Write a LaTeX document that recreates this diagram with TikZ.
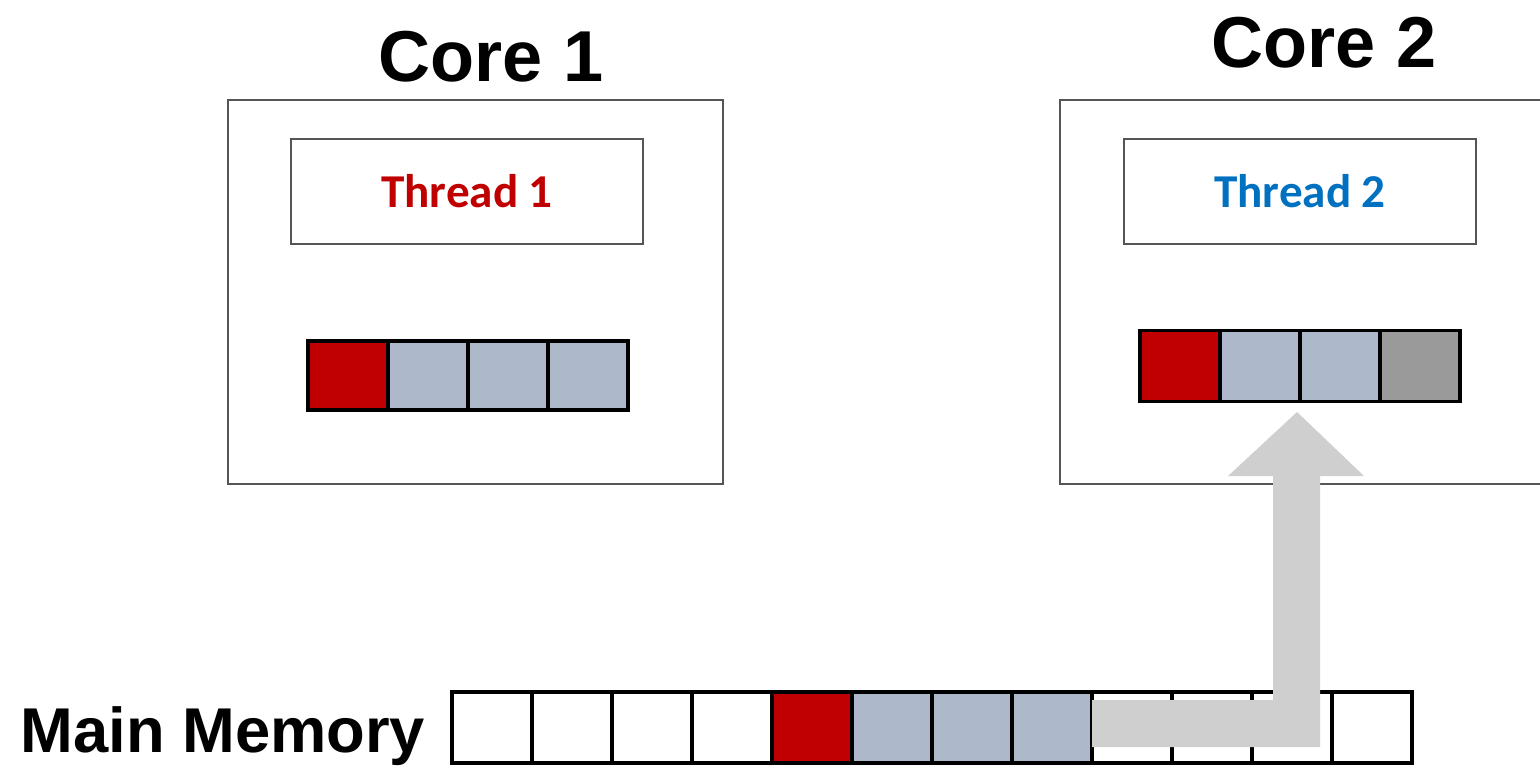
\documentclass[tikz,border=0pt]{standalone}
\usepackage{fontspec}
\setmainfont{Liberation Sans}
\newfontfamily\threadfont{Carlito}
\usetikzlibrary{arrows.meta}
\definecolor{CacheRed}{HTML}{C00000}
\definecolor{CacheBlue}{HTML}{ADB9CA}
\definecolor{CacheGray}{HTML}{9A9A9A}
\definecolor{ArrowGray}{HTML}{D0CFD0}
\definecolor{ThreadBlue}{HTML}{0070C0}
\definecolor{FrameGray}{HTML}{555555}

\tikzset{
    corebox/.style={draw=FrameGray, line width=0.4pt, inner sep=0pt, outer sep=0pt},
    threadbox/.style={draw=FrameGray, line width=0.4pt, inner sep=0pt, outer sep=0pt,
        minimum width=3.52cm, minimum height=1.05cm},
    cell/.style={draw=black, line width=1.1pt, inner sep=0pt, outer sep=0pt,
        minimum width=0.8cm, minimum height=0.7cm},
    memcell/.style={cell, line width=0.9pt, minimum height=0.71cm},
    title/.style={font=\fontsize{20.5}{24}\selectfont\bfseries, anchor=base, inner sep=0pt},
    threadlabel/.style={font=\threadfont\fontsize{13.4}{16}\selectfont\bfseries, anchor=base, inner sep=0pt}
}

\begin{document}
\begin{tikzpicture}[>=Stealth, x=0.01cm, y=-0.01cm]
    \useasboundingbox (0,0) rectangle (1540,766);

    % ========== LEFT: Core 1 ==========
    \node[title] (core1title) at (491,81) {Core 1};
    \node[corebox, minimum width=4.95cm, minimum height=3.84cm] (core1) at (475.5,292) {};
    \node[threadbox] (thread1) at (467,191.5) {};
    \node[threadlabel, text=CacheRed] (thread1label) at (467,207) {Thread 1};

    % cache line of core 1
    \foreach \i/\c in {1/CacheBlue,2/CacheBlue,3/CacheBlue}
        \node[cell, fill=\c, minimum height=0.69cm] (cacheA\i) at (348+80*\i,375.5) {};
    \node[cell, fill=CacheRed, minimum height=0.69cm] (cacheA0) at (348,375.5) {};

    % ========== RIGHT: Core 2 ==========
    \node[title] (core2title) at (1324,67) {Core 2};
    \begin{scope}
        \clip (0,0) rectangle (1540,766);
        \node[corebox, minimum width=4.95cm, minimum height=3.84cm] (core2) at (1307.5,292) {};
    \end{scope}
    \node[threadbox] (thread2) at (1300,191.5) {};
    \node[threadlabel, text=ThreadBlue] (thread2label) at (1300,207) {Thread 2};

    % cache line of core 2
    \foreach \i/\c in {1/CacheBlue,2/CacheBlue,3/CacheGray}
        \node[cell, fill=\c, minimum height=0.71cm] (cacheB\i) at (1180+80*\i,366) {};
    \node[cell, fill=CacheRed, minimum height=0.71cm] (cacheB0) at (1180,366) {};

    % ========== BOTTOM: Main memory ==========
    \node[title, anchor=base west, font=\fontsize{18}{22}\selectfont\bfseries] (memlabel) at (20,752) {Main Memory};
    \foreach \i in {0,...,11}
        \node[memcell, fill=white] (mem\i) at (492+80*\i,727.5) {};
    \foreach \i in {5,6,7}
        \node[memcell, fill=CacheBlue] (mem\i) at (492+80*\i,727.5) {};
    \node[memcell, fill=CacheRed] (mem4) at (812,727.5) {};

    % Fetch arrow from memory up into the cache of core 2
    \fill[ArrowGray] (1092,700) -- (1273,700) -- (1273,476) -- (1228,476) -- (1297,412)
        -- (1364,476) -- (1320,476) -- (1320,747) -- (1092,747) -- cycle;

\end{tikzpicture}
\end{document}
